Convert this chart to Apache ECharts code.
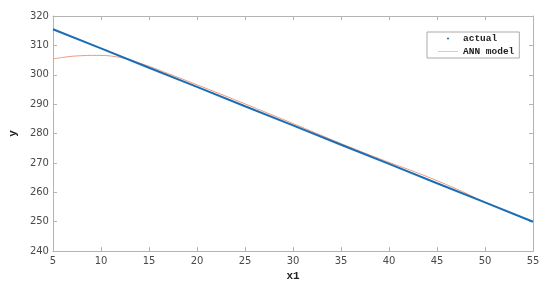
<!DOCTYPE html>
<html>
<head>
<meta charset="utf-8">
<script src="https://cdn.jsdelivr.net/npm/echarts@6/dist/echarts.min.js"></script>
<style>
  html, body { margin: 0; padding: 0; background: #fff; }
  #main { width: 550px; height: 287px; }
</style>
</head>
<body>
<div id="main"></div>
<script>
// actual data (blue, dense dots that look like a line)
var actualX = [5, 10, 15, 20, 25, 30, 35, 40, 45, 50, 55];
var actualY = [315.5, 309.0, 302.4, 295.9, 289.3, 282.8, 276.2, 269.7, 263.1, 256.6, 250.0];

// ANN model curve
var annX = [5, 6, 7, 8, 9, 10, 11, 12, 13, 14, 15, 17, 20, 25, 30, 35, 38, 40, 42, 44, 46, 48, 50, 52, 55];
var annY = [305.4, 305.9, 306.3, 306.5, 306.6, 306.6, 306.4, 305.9, 305.1, 304.0, 302.9, 300.4, 296.6, 290.1, 283.4, 276.6, 272.7, 270.2, 267.8, 265.3, 262.6, 259.7, 256.6, 253.9, 250.0];

var xTicks = { min: 5, max: 55, interval: 5 };
var yTicks = { min: 240, max: 320, interval: 10 };

function pairs(xs, ys) {
    var out = [];
    for (var i = 0; i < xs.length; i++) out.push([xs[i], ys[i]]);
    return out;
}

var axisGray = '#b4b4b4';
var labelColor = '#4a4a4a';
var mono = '"Liberation Mono", "DejaVu Sans Mono", monospace';

var chart = echarts.init(document.getElementById('main'));
var option = {
    animation: false,
    grid: { left: 44, right: 17, top: 16, bottom: 32 },
    legend: {
        orient: 'vertical',
        left: 427,
        top: 32,
        padding: [1, 5, 1, 11],
        itemGap: 2,
        itemWidth: 20,
        itemHeight: 2,
        itemSymbolGap: 2,
        borderColor: '#aaa',
        borderWidth: 1,
        backgroundColor: '#fff',
        textStyle: { fontFamily: mono, fontWeight: 'bold', fontSize: 9.5, color: '#222', lineHeight: 11 },
        data: [
            { name: 'actual', icon: 'circle' },
            { name: 'ANN model', icon: 'path://M0,0 L20,0 L20,0.6 L0,0.6 Z', itemStyle: { color: '#ec9a7c' } }
        ]
    },
    xAxis: [{
        type: 'value',
        min: xTicks.min, max: xTicks.max, interval: xTicks.interval,
        name: 'x1', nameLocation: 'middle', nameGap: 17,
        nameTextStyle: { fontFamily: mono, fontWeight: 'bold', fontSize: 11, color: '#222' },
        axisLine: { show: true, lineStyle: { color: axisGray } },
        axisTick: { show: true, inside: true, length: 4, lineStyle: { color: axisGray } },
        axisLabel: { color: labelColor, fontSize: 10, margin: 5, fontFamily: 'DejaVu Sans' },
        splitLine: { show: false }
    }, {
        type: 'value', position: 'top',
        min: xTicks.min, max: xTicks.max, interval: xTicks.interval,
        axisLine: { show: true, lineStyle: { color: axisGray } },
        axisTick: { show: true, inside: true, length: 4, lineStyle: { color: axisGray } },
        axisLabel: { show: false },
        splitLine: { show: false }
    }],
    yAxis: [{
        type: 'value',
        min: yTicks.min, max: yTicks.max, interval: yTicks.interval,
        name: 'y', nameLocation: 'middle', nameGap: 32,
        nameTextStyle: { fontFamily: mono, fontWeight: 'bold', fontSize: 11, color: '#222' },
        axisLine: { show: true, lineStyle: { color: axisGray } },
        axisTick: { show: true, inside: true, length: 4, lineStyle: { color: axisGray } },
        axisLabel: { color: labelColor, fontSize: 10, margin: 4, fontFamily: 'DejaVu Sans' },
        splitLine: { show: false }
    }, {
        type: 'value', position: 'right',
        min: yTicks.min, max: yTicks.max, interval: yTicks.interval,
        axisLine: { show: true, lineStyle: { color: axisGray } },
        axisTick: { show: true, inside: true, length: 4, lineStyle: { color: axisGray } },
        axisLabel: { show: false },
        splitLine: { show: false }
    }],
    series: [
        {
            name: 'actual',
            type: 'line',
            showSymbol: false,
            data: pairs(actualX, actualY),
            color: '#1a6db5',
            lineStyle: { width: 2, color: '#1a6db5' },
            z: 3
        },
        {
            name: 'ANN model',
            type: 'line',
            smooth: 0.3,
            showSymbol: false,
            data: pairs(annX, annY),
            color: '#ec9a7c',
            lineStyle: { width: 1, color: '#ec9a7c' },
            z: 2
        }
    ]
};
chart.setOption(option);
</script>
</body>
</html>
